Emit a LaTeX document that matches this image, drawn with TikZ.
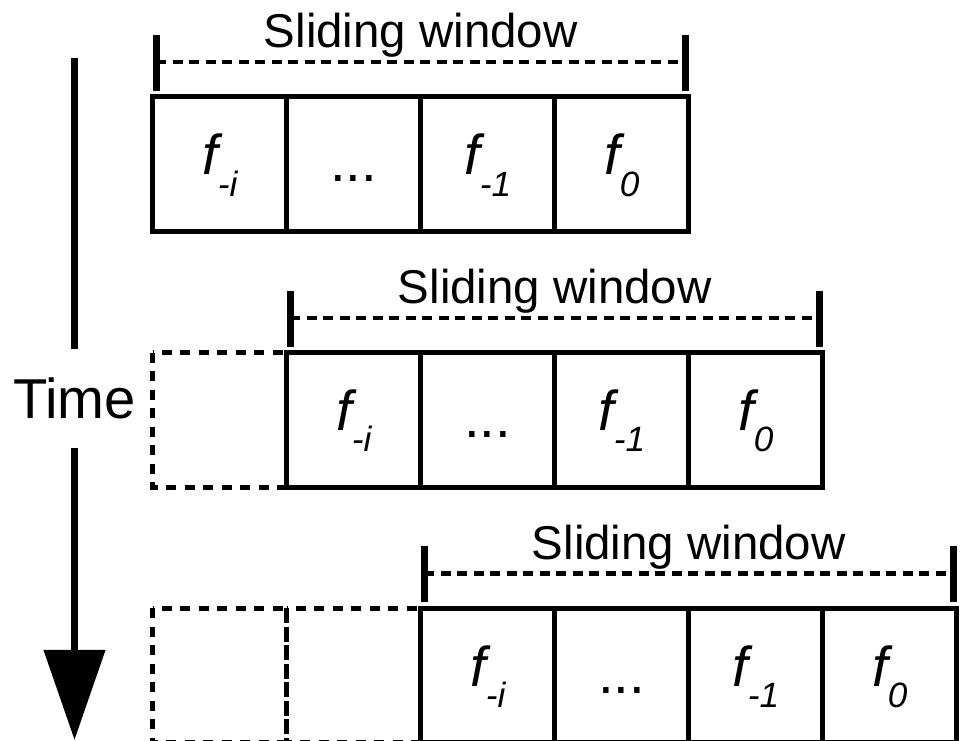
\documentclass[tikz,border=0pt]{standalone}
\usepackage{fontspec}
\setmainfont{Liberation Sans}
\usetikzlibrary{arrows.meta,positioning}

\newcommand{\flab}[1]{\itshape f\raisebox{-0.43cm}{\fontsize{20}{20}\selectfont #1}}

\tikzset{
	cell/.style={draw, line width=0.1cm, minimum width=2.68cm, minimum height=2.69cm, inner sep=0pt, outer sep=0pt, text height=0.42cm, text depth=0cm, font=\fontsize{32}{32}\selectfont},
	ghost/.style={line width=0.1cm, dash pattern=on 0.2cm off 0.17cm},
	winbar/.style={line width=0.14cm},
	windots/.style={line width=0.085cm, dash pattern=on 0.2cm off 0.13cm},
	winlabel/.style={anchor=base, inner sep=0pt, font=\fontsize{27}{27}\selectfont},
	timeline/.style={line width=0.15cm}
}

\begin{document}
\begin{tikzpicture}
	\useasboundingbox (0,0) rectangle (19.22,-14.82);
	
	% time axis
	\node[inner xsep=0pt, inner ysep=0.57cm, font=\fontsize{32}{32}\selectfont] (time) at (1.49,-7.97) {Time};
	\coordinate (ttop) at (1.49,-1.16);
	\coordinate (tbot) at (1.49,-14.80);
	\draw[timeline] (ttop) -- (time.north);
	\draw[timeline, -{Triangle[width=1.2cm,length=1.8cm]}] (time.south) -- (tbot);
	
	% one row per time step
	\foreach \r in {0,1,2}{
		\pgfmathsetmacro{\L}{3.055+2.68*\r}
		\pgfmathsetmacro{\T}{-1.94-5.115*\r}
		% frames that already left the window
		\ifnum\r>0
			\foreach \j in {1,...,\r}{
				\draw[ghost] ({3.055+2.68*(\j-1)},\T) rectangle ++(2.68,-2.69);
			}
		\fi
		\node[cell] (c\r-1) at ({\L+1.34},{\T-1.345}) {\flab{-i}};
		\node[cell, right=0pt of c\r-1] (c\r-2) {\raisebox{-0.14cm}{...}};
		\node[cell, right=0pt of c\r-2] (c\r-3) {\flab{-1}};
		\node[cell, right=0pt of c\r-3] (c\r-4) {\flab{0}};
		% window bracket
		\coordinate (wl\r) at ({\L+0.07},{\T+0.70});
		\coordinate (wr\r) at ({\L+4*2.68-0.07},{\T+0.70});
		\draw[winbar] ([yshift=-0.58cm]wl\r) -- ([yshift=0.54cm]wl\r);
		\draw[winbar] ([yshift=-0.58cm]wr\r) -- ([yshift=0.54cm]wr\r);
		\draw[windots] (wl\r) -- (wr\r);
		\node[winlabel] (sw\r) at ({\L+2*2.68},{\T+0.98}) {Sliding window};
	}
\end{tikzpicture}
\end{document}
